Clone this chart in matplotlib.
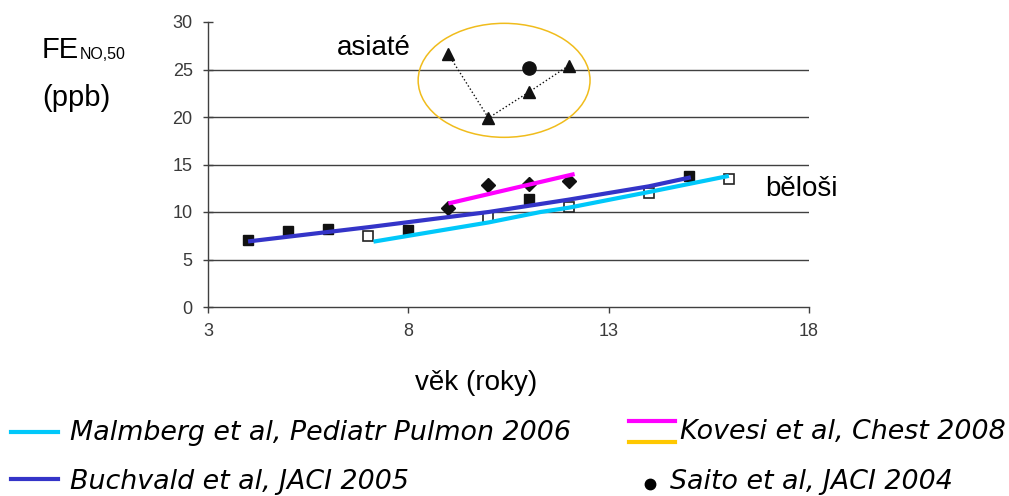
import matplotlib.pyplot as plt
from matplotlib.patches import Ellipse
from matplotlib.lines import Line2D

plt.rcParams['font.family'] = ['Liberation Sans', 'DejaVu Sans']

# namerene body (vek v letech, FeNO v ppb)
buchvald_age = [4, 5, 6, 8, 11, 15]
buchvald_feno = [7.05, 8.0, 8.2, 8.1, 11.35, 13.8]
malmberg_age = [7, 10, 12, 14, 16]
malmberg_feno = [7.5, 9.5, 10.5, 12.0, 13.5]
kovesi_age = [9, 10, 11, 12]
kovesi_feno = [10.4, 12.8, 13.0, 13.3]
asian_age = [9, 10, 11, 12]
asian_feno = [26.6, 19.9, 22.6, 25.4]
saito_age = [11]
saito_feno = [25.2]

# prolozene krivky
buchvald_fit_age = [4, 7, 10, 12, 14, 15.05]
buchvald_fit = [6.9, 8.4, 10.0, 11.3, 12.7, 13.65]
malmberg_fit_age = [7.13, 10, 11.3, 12, 14, 16]
malmberg_fit = [6.88, 8.9, 10.0, 10.45, 12.1, 13.8]
kovesi_fit_age = [9.0, 12.15]
kovesi_fit = [10.9, 14.0]

x_ticks = [3, 8, 13, 18]
y_ticks = [0, 5, 10, 15, 20, 25, 30]

legend_labels = ["Malmberg et al, Pediatr Pulmon 2006", "Buchvald et al, JACI 2005",
                 "Kovesi et al, Chest 2008", "Saito et al, JACI 2004"]

CYAN = '#00C8FA'
BLUE = '#3434C8'
MAGENTA = '#FF00FF'
GOLD = '#FFC800'
GRID = '#404040'

W, H = 1009, 496


def fx(px):
    return px / W


def fy(py):
    return 1 - py / H


fig = plt.figure(figsize=(W / 100, H / 100), dpi=100)
ax = fig.add_axes([fx(208), fy(307), 601 / W, 285 / H])

# body
ax.plot(buchvald_age, buchvald_feno, 's', color='#111111', ms=7.5, zorder=3)
ax.plot(malmberg_age, malmberg_feno, 's', mfc='white', mec='#222222', mew=1.2, ms=7, zorder=3)
ax.plot(kovesi_age, kovesi_feno, 'D', color='#111111', ms=7.5, zorder=3)
ax.plot(asian_age, asian_feno, ':', color='#111111', lw=1.0, zorder=3)
ax.plot(asian_age, asian_feno, '^', color='#111111', ms=8.5, zorder=3)
ax.plot(saito_age, saito_feno, 'o', color='#111111', ms=9.5, zorder=3)

# krivky
ax.plot(malmberg_fit_age, malmberg_fit, color=CYAN, lw=3, solid_capstyle='butt', zorder=4)
ax.plot(buchvald_fit_age, buchvald_fit, color=BLUE, lw=3, solid_capstyle='butt', zorder=4)
ax.plot(kovesi_fit_age, kovesi_fit, color=MAGENTA, lw=3, solid_capstyle='butt', zorder=4)

ax.add_patch(Ellipse((10.39, 23.86), 4.29, 12.0, fill=False, ec='#F0BC1C', lw=1.1, zorder=2))

ax.text(6.22, 26.5, "asiaté", fontsize=20, ha='left', va='baseline')
ax.text(16.9, 11.68, "běloši", fontsize=20, ha='left', va='baseline')

ax.set_xlim(3, 18)
ax.set_ylim(0, 30)
ax.set_xticks(x_ticks)
ax.set_yticks(y_ticks)
ax.grid(axis='y', color=GRID, lw=1.0)
for gl, val in zip(ax.get_ygridlines(), y_ticks):
    if val in (0, 30):
        gl.set_visible(False)
ax.set_axisbelow(True)

for side in ('top', 'right'):
    ax.spines[side].set_visible(False)
for side in ('left', 'bottom'):
    ax.spines[side].set_color(GRID)
    ax.spines[side].set_linewidth(1.0)

ax.tick_params(axis='y', direction='inout', length=7, width=1, color=GRID,
               labelsize=13, labelcolor='#3a3a3a', pad=7.5)
ax.tick_params(axis='x', direction='out', length=4.3, width=1, color=GRID,
               labelsize=13, labelcolor='#3a3a3a', pad=7.5)

# popisky os
fig.text(fx(42), fy(58), "FE", fontsize=21, va='baseline')
fig.text(fx(80), fy(59), "NO,50", fontsize=11.5, va='baseline')
fig.text(fx(42), fy(106), "(ppb)", fontsize=21, va='baseline')
fig.text(fx(476), fy(390), "věk (roky)", fontsize=20, ha='center', va='baseline')

# legenda
leg_font = dict(fontsize=19.4, family='DejaVu Sans', style='italic', va='baseline')
fig.add_artist(Line2D([fx(11), fx(58)], [fy(432), fy(432)], color=CYAN, lw=3))
fig.text(fx(70), fy(440), legend_labels[0], **leg_font)
fig.add_artist(Line2D([fx(11), fx(58)], [fy(479), fy(479)], color=BLUE, lw=3))
fig.text(fx(70), fy(489), legend_labels[1], **leg_font)
fig.add_artist(Line2D([fx(629), fx(675)], [fy(421), fy(421)], color=MAGENTA, lw=3))
fig.add_artist(Line2D([fx(629), fx(675)], [fy(442), fy(442)], color=GOLD, lw=3))
fig.text(fx(680), fy(439), legend_labels[2], **leg_font)
fig.add_artist(Line2D([fx(650)], [fy(484)], marker='o', color='black', ms=7.5, lw=0))
fig.text(fx(670), fy(489), legend_labels[3], **leg_font)

fig.savefig('out.png', dpi=100)
